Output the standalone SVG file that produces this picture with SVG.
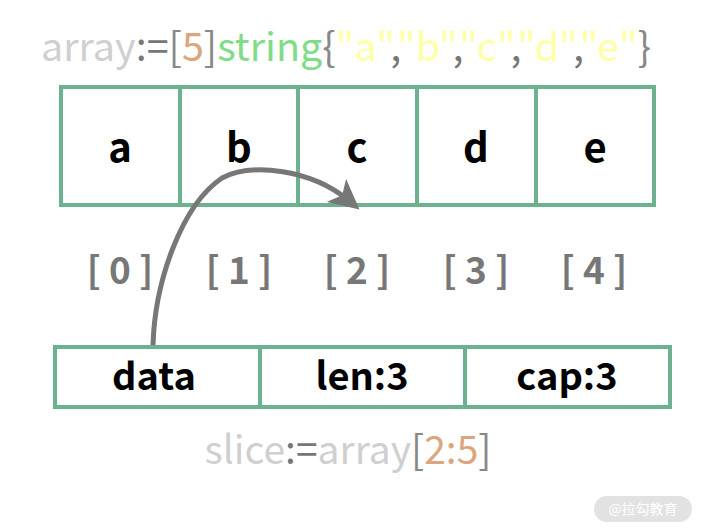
<svg xmlns="http://www.w3.org/2000/svg" width="701" height="532" viewBox="0 0 701 532">
<style>
.box{fill:#fff;stroke:#6db28f;stroke-width:4}
.cell{font-family:"Noto Sans CJK SC","Source Sans Pro","Noto Sans",sans-serif;font-weight:bold;fill:#000;text-anchor:middle}
.idx{font-family:"Noto Sans CJK SC","Noto Sans",sans-serif;font-weight:bold;fill:#777;font-size:37px;text-anchor:middle}
.code{font-family:"Noto Sans CJK SC","Noto Sans",sans-serif;font-weight:normal}
.lg{fill:#cfcfcf}.dg{fill:#777}.br{fill:#888}.or{fill:#dba67e}.gr{fill:#7fdc87}.ye{fill:#ffffa6}
</style>
<defs>
<marker id="ah" markerWidth="6" markerHeight="6" refX="3" refY="3" orient="auto" markerUnits="strokeWidth">
<path d="M0,0 L6,3 L0,6 L1.5,3 Z" fill="#777"/>
</marker>
</defs>
<rect width="701" height="532" fill="#fff"/>
<text class="code" x="41" y="61" font-size="39.5"><tspan class="lg">array</tspan><tspan class="dg">:=</tspan><tspan class="br">[</tspan><tspan class="or">5</tspan><tspan class="br">]</tspan><tspan class="gr">string</tspan><tspan class="br">{</tspan><tspan class="ye">"a"</tspan><tspan class="dg">,</tspan><tspan class="ye">"b"</tspan><tspan class="dg">,</tspan><tspan class="ye">"c"</tspan><tspan class="dg">,</tspan><tspan class="ye">"d"</tspan><tspan class="dg">,</tspan><tspan class="ye">"e"</tspan><tspan class="br">}</tspan></text>
<g id="array">
<g id="cell-a"><rect class="box" x="61" y="87" width="119" height="118"/><text class="cell" x="120" y="162" font-size="40">a</text></g>
<g id="cell-b"><rect class="box" x="180" y="87" width="118" height="118"/><text class="cell" x="239" y="162" font-size="40">b</text></g>
<g id="cell-c"><rect class="box" x="298" y="87" width="119" height="118"/><text class="cell" x="357" y="162" font-size="40">c</text></g>
<g id="cell-d"><rect class="box" x="417" y="87" width="119" height="118"/><text class="cell" x="476" y="162" font-size="40">d</text></g>
<g id="cell-e"><rect class="box" x="536" y="87" width="118" height="118"/><text class="cell" x="595" y="162" font-size="40">e</text></g>
</g>
<g id="indices">
<text class="idx" x="120" y="284">[ 0 ]</text>
<text class="idx" x="239" y="284">[ 1 ]</text>
<text class="idx" x="357" y="284">[ 2 ]</text>
<text class="idx" x="476" y="284">[ 3 ]</text>
<text class="idx" x="594" y="284">[ 4 ]</text>
</g>
<g id="slice">
<g id="data"><rect class="box" x="55" y="347" width="205" height="60"/><text class="cell" x="154" y="390" font-size="38">data</text></g>
<g id="len"><rect class="box" x="260" y="347" width="205" height="60"/><text class="cell" x="362" y="390" font-size="38">len:3</text></g>
<g id="cap"><rect class="box" x="465" y="347" width="205" height="60"/><text class="cell" x="567" y="390" font-size="38">cap:3</text></g>
</g>
<g id="connectors">
<path d="M153,345 C155,280 182,205 222,178 C252,162 312,170 348,200" fill="none" stroke="#777" stroke-width="5" marker-end="url(#ah)"/>
</g>
<text class="code" x="348" y="464" font-size="39" text-anchor="middle"><tspan class="lg">slice</tspan><tspan class="dg">:=</tspan><tspan class="lg">array</tspan><tspan class="br">[</tspan><tspan class="or">2:5</tspan><tspan class="br">]</tspan></text>
<g id="watermark">
<rect x="594" y="496" width="98" height="26" rx="13" fill="#e2e2e2"/>
<text x="643" y="514" text-anchor="middle" font-family="Noto Sans CJK SC,sans-serif" font-size="14" fill="#fff">@拉勾教育</text>
</g>
</svg>
